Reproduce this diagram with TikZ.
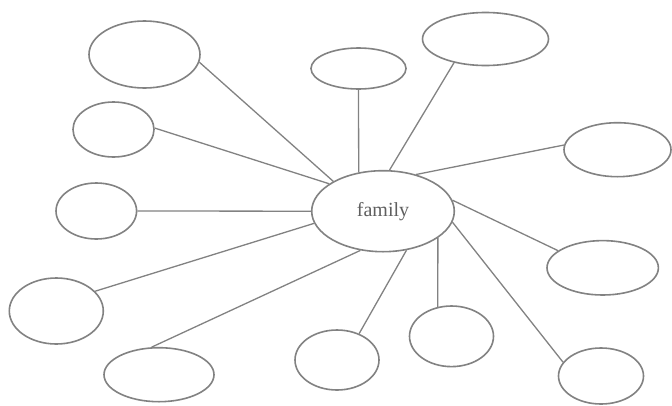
\documentclass[tikz,border=0pt]{standalone}
\usepackage{fontspec}
\setmainfont{Liberation Serif}
\usetikzlibrary{shapes.geometric}
\definecolor{strokegray}{RGB}{130,130,130}
\definecolor{textgray}{RGB}{95,95,95}
\begin{document}
\begin{tikzpicture}[x=1pt,y=-1pt,
  bubble/.style={ellipse,draw=strokegray,line width=1.6pt,inner sep=0pt,fill=white},
  spoke/.style={draw=strokegray,line width=1.3pt}]
\useasboundingbox[fill=white] (0,0) rectangle (672,405);
% center
\node[bubble,minimum width=142.6pt,minimum height=81pt,font=\fontsize{20}{23}\selectfont,text=textgray] (c) at (383,211.2) {family};
% outer ellipses
\node[bubble,minimum width=111pt,minimum height=67pt] (e1) at (144.5,54.5) {};
\node[bubble,minimum width=95pt,minimum height=41pt] (e2) at (358.5,68.5) {};
\node[bubble,minimum width=126pt,minimum height=53pt] (e3) at (485.5,39) {};
\node[bubble,minimum width=81pt,minimum height=55pt] (e4) at (113.5,129.5) {};
\node[bubble,minimum width=107pt,minimum height=54pt] (e5) at (617.5,149.7) {};
\node[bubble,minimum width=80.6pt,minimum height=56pt] (e6) at (96.3,211) {};
\node[bubble,minimum width=111.4pt,minimum height=54.4pt] (e7) at (602.7,267.8) {};
\node[bubble,minimum width=94pt,minimum height=66pt] (e8) at (56.3,311) {};
\node[bubble,minimum width=110pt,minimum height=54pt] (e9) at (159,374.7) {};
\node[bubble,minimum width=84pt,minimum height=60pt] (e10) at (337,360) {};
\node[bubble,minimum width=84pt,minimum height=60.6pt] (e11) at (451.5,336.3) {};
\node[bubble,minimum width=85pt,minimum height=56pt] (e12) at (601,376) {};
% spokes
\path[spoke] (e1.-8) -- (c.149.7);
\path[spoke] (e2.south) -- (c.122.5);
\path[spoke] (e3.217) -- (c.81.3);
\path[spoke] (e4.2) -- (c.153.7);
\path[spoke] (e5.175) -- (c.48.4);
\path[spoke] (e6.east) -- (c.west);
\path[spoke] (e7.159) -- (c.9.1);
\path[spoke] (e8.27.7) -- (c.190.4);
\path[spoke] (e9.105) -- (c.240.6);
\path[spoke] (e10.50.1) -- (c.-59.3);
\path[spoke] (e11.115) -- (c.-26.4);
\path[spoke] (e12.160) -- (c.-9.8);
\end{tikzpicture}
\end{document}
